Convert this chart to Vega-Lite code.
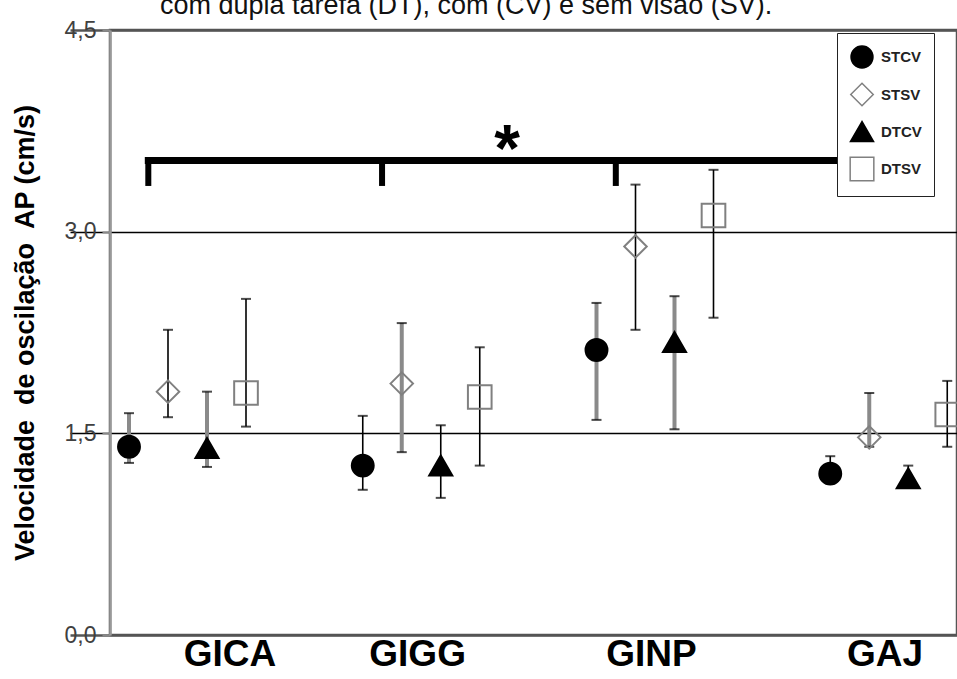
{
  "$schema": "https://vega.github.io/schema/vega-lite/v6.json",
  "width": 847,
  "height": 605,
  "autosize": {"type": "none"},
  "padding": {"left": 110, "top": 30, "right": 0, "bottom": 44},
  "background": "white",
  "config": {"view": {"stroke": "#555", "strokeWidth": 2.5}, "font": "Liberation Sans"},
  "title": {"text": "com dupla tarefa (DT), com (CV) e sem visão (SV).", "anchor": "start", "frame": "group", "dx": 50, "dy": 22, "offset": 0, "baseline": "alphabetic", "fontSize": 27, "fontWeight": "normal", "font": "Liberation Sans", "color": "#111"},
  "datasets": {
    "medias": [
      {"grupo": "GICA", "cond": "STCV", "media": 1.40, "lo": 1.28, "hi": 1.65},
      {"grupo": "GICA", "cond": "STSV", "media": 1.81, "lo": 1.62, "hi": 2.27},
      {"grupo": "GICA", "cond": "DTCV", "media": 1.39, "lo": 1.25, "hi": 1.81},
      {"grupo": "GICA", "cond": "DTSV", "media": 1.80, "lo": 1.55, "hi": 2.50},
      {"grupo": "GIGG", "cond": "STCV", "media": 1.26, "lo": 1.08, "hi": 1.63},
      {"grupo": "GIGG", "cond": "STSV", "media": 1.87, "lo": 1.36, "hi": 2.32},
      {"grupo": "GIGG", "cond": "DTCV", "media": 1.26, "lo": 1.02, "hi": 1.56},
      {"grupo": "GIGG", "cond": "DTSV", "media": 1.77, "lo": 1.26, "hi": 2.14},
      {"grupo": "GINP", "cond": "STCV", "media": 2.12, "lo": 1.60, "hi": 2.47},
      {"grupo": "GINP", "cond": "STSV", "media": 2.89, "lo": 2.27, "hi": 3.35},
      {"grupo": "GINP", "cond": "DTCV", "media": 2.18, "lo": 1.53, "hi": 2.52},
      {"grupo": "GINP", "cond": "DTSV", "media": 3.12, "lo": 2.36, "hi": 3.46},
      {"grupo": "GAJ", "cond": "STCV", "media": 1.20, "lo": 1.13, "hi": 1.33},
      {"grupo": "GAJ", "cond": "STSV", "media": 1.47, "lo": 1.40, "hi": 1.80},
      {"grupo": "GAJ", "cond": "DTCV", "media": 1.165, "lo": 1.11, "hi": 1.26},
      {"grupo": "GAJ", "cond": "DTSV", "media": 1.64, "lo": 1.40, "hi": 1.89}
    ],
    "grupos": [{"grupo": "GICA"}, {"grupo": "GIGG"}, {"grupo": "GINP"}, {"grupo": "GAJ"}]
  },
  "layer": [
    {
      "data": {"name": "grupos"},
      "mark": {"type": "line", "color": "black", "strokeWidth": 7, "strokeCap": "square"},
      "encoding": {
        "x": {"field": "grupo", "type": "nominal", "bandPosition": 0.335, "sort": ["GICA", "GIGG", "GINP", "GAJ"], "scale": {"domain": ["GICA", "GIGG", "GINP", "GAJ"], "range": [-40, 895], "paddingInner": 0, "paddingOuter": 0}, "axis": {"title": null, "domain": false, "ticks": false, "grid": false, "labelFontSize": 37, "labelFontWeight": "bold", "labelColor": "black", "labelPadding": 1, "labelAngle": 0, "labelOffset": {"condition": {"test": "datum.value === 'GICA'", "value": 43}, "value": -3}}},
        "y": {"datum": 3.53, "type": "quantitative", "scale": {"domain": [0, 4.5], "nice": false, "zero": false}, "axis": {"title": "Velocidade\u00a0 de oscilação\u00a0 AP (cm/s)", "titleFontSize": 27, "titleFontWeight": "bold", "titleColor": "black", "titlePadding": 25, "values": [0, 1.5, 3, 4.5], "labelExpr": "replace(format(datum.value, '.1f'), '.', ',')", "labelFontSize": 23, "labelColor": "#404040", "labelPadding": 6, "tickSize": 8, "tickColor": "#888", "tickWidth": 2, "domainColor": "#999", "domainWidth": 2.5, "grid": true, "gridColor": {"condition": {"test": "datum.value === 1.5 || datum.value === 3", "value": "black"}, "value": "#555"}, "gridWidth": {"condition": {"test": "datum.value === 1.5 || datum.value === 3", "value": 1.5}, "value": 2.5}, "gridOpacity": 1}}
      }
    },
    {
      "data": {"name": "grupos"},
      "mark": {"type": "rule", "color": "black", "strokeWidth": 6},
      "encoding": {
        "x": {"field": "grupo", "type": "nominal", "bandPosition": 0.335},
        "y": {"datum": 3.53, "type": "quantitative"},
        "y2": {"datum": 3.34}
      }
    },
    {
      "data": {"name": "medias"},
      "transform": [{"filter": "(indexof(['GICA','GINP'], datum.grupo) >= 0 && indexof(['STCV','DTCV'], datum.cond) >= 0) || (indexof(['GIGG','GAJ'], datum.grupo) >= 0 && datum.cond === 'STSV')"}],
      "mark": {"type": "rule", "color": "#8a8a8a", "strokeWidth": 4},
      "encoding": {
        "x": {"field": "grupo", "type": "nominal"},
        "xOffset": {"field": "cond", "type": "nominal", "scale": {"type": "point", "domain": ["STCV", "STSV", "DTCV", "DTSV"], "range": [59, 176], "padding": 0}},
        "y": {"field": "lo", "type": "quantitative"},
        "y2": {"field": "hi"}
      }
    },
    {
      "data": {"name": "medias"},
      "transform": [{"filter": "!((indexof(['GICA','GINP'], datum.grupo) >= 0 && indexof(['STCV','DTCV'], datum.cond) >= 0) || (indexof(['GIGG','GAJ'], datum.grupo) >= 0 && datum.cond === 'STSV'))"}],
      "mark": {"type": "rule", "color": "black", "strokeWidth": 1.6},
      "encoding": {
        "x": {"field": "grupo", "type": "nominal"},
        "xOffset": {"field": "cond", "type": "nominal"},
        "y": {"field": "lo", "type": "quantitative"},
        "y2": {"field": "hi"}
      }
    },
    {
      "data": {"name": "medias"},
      "mark": {"type": "tick", "color": "black", "thickness": 2, "size": 10},
      "encoding": {
        "x": {"field": "grupo", "type": "nominal"},
        "xOffset": {"field": "cond", "type": "nominal"},
        "y": {"field": "hi", "type": "quantitative"}
      }
    },
    {
      "data": {"name": "medias"},
      "mark": {"type": "tick", "color": "black", "thickness": 2, "size": 10},
      "encoding": {
        "x": {"field": "grupo", "type": "nominal"},
        "xOffset": {"field": "cond", "type": "nominal"},
        "y": {"field": "lo", "type": "quantitative"}
      }
    },
    {
      "data": {"name": "medias"},
      "mark": {"type": "point", "filled": false, "strokeWidth": 2, "opacity": 1},
      "encoding": {
        "x": {"field": "grupo", "type": "nominal"},
        "xOffset": {"field": "cond", "type": "nominal"},
        "y": {"field": "media", "type": "quantitative"},
        "shape": {"field": "cond", "type": "nominal", "scale": {"domain": ["STCV", "STSV", "DTCV", "DTSV"], "range": ["circle", "diamond", "triangle-up", "square"]},
          "legend": {"title": null, "orient": "none", "legendX": 727, "legendY": 3, "padding": 12, "rowPadding": 9, "fillColor": "white", "strokeColor": "#222", "labelFontSize": 15, "labelFontWeight": "bold", "labelColor": "#222", "labelOffset": 6, "labelExpr": "datum.label + '\u00a0\u00a0\u00a0\u00a0\u00a0\u00a0\u00a0\u00a0\u00a0\u00a0\u00a0\u00a0'",
            "encode": {"symbols": {"update": {"fill": {"signal": "datum.value === 'STCV' || datum.value === 'DTCV' ? 'black' : '#9a9a9a'"}, "stroke": {"value": "transparent"}, "size": {"signal": "datum.value === 'DTCV' ? 110 : 55"}}}}}},
        "fill": {"field": "cond", "type": "nominal", "scale": {"domain": ["STCV", "STSV", "DTCV", "DTSV"], "range": ["black", "transparent", "black", "transparent"]},
          "legend": {"title": null, "orient": "none", "legendX": 727, "legendY": 3, "padding": 12, "rowPadding": 9, "fillColor": "white", "strokeColor": "#222", "labelFontSize": 15, "labelFontWeight": "bold", "labelColor": "#222", "labelOffset": 6, "labelExpr": "datum.label + '\u00a0\u00a0\u00a0\u00a0\u00a0\u00a0\u00a0\u00a0\u00a0\u00a0\u00a0\u00a0'",
            "encode": {"symbols": {"update": {"fill": {"signal": "datum.value === 'STCV' || datum.value === 'DTCV' ? 'black' : '#9a9a9a'"}, "stroke": {"value": "transparent"}, "size": {"signal": "datum.value === 'DTCV' ? 110 : 55"}}}}}},
        "stroke": {"field": "cond", "type": "nominal", "scale": {"domain": ["STCV", "STSV", "DTCV", "DTSV"], "range": ["black", "#808080", "black", "#808080"]},
          "legend": {"title": null, "orient": "none", "legendX": 727, "legendY": 3, "padding": 12, "rowPadding": 9, "fillColor": "white", "strokeColor": "#222", "labelFontSize": 15, "labelFontWeight": "bold", "labelColor": "#222", "labelOffset": 6, "labelExpr": "datum.label + '\u00a0\u00a0\u00a0\u00a0\u00a0\u00a0\u00a0\u00a0\u00a0\u00a0\u00a0\u00a0'",
            "encode": {"symbols": {"update": {"fill": {"signal": "datum.value === 'STCV' || datum.value === 'DTCV' ? 'black' : '#9a9a9a'"}, "stroke": {"value": "transparent"}, "size": {"signal": "datum.value === 'DTCV' ? 110 : 55"}}}}}},
        "size": {"field": "cond", "type": "ordinal", "scale": {"domain": ["STCV", "STSV", "DTCV", "DTSV"], "range": [480, 560, 500, 440]},
          "legend": {"title": null, "orient": "none", "legendX": 727, "legendY": 3, "padding": 12, "rowPadding": 9, "fillColor": "white", "strokeColor": "#222", "labelFontSize": 15, "labelFontWeight": "bold", "labelColor": "#222", "labelOffset": 6, "labelExpr": "datum.label + '\u00a0\u00a0\u00a0\u00a0\u00a0\u00a0\u00a0\u00a0\u00a0\u00a0\u00a0\u00a0'",
            "encode": {"symbols": {"update": {"fill": {"signal": "datum.value === 'STCV' || datum.value === 'DTCV' ? 'black' : '#9a9a9a'"}, "stroke": {"value": "transparent"}, "size": {"signal": "datum.value === 'DTCV' ? 110 : 55"}}}}}}
      }
    },
    {
      "data": {"values": [{"t": "*"}]},
      "mark": {"type": "text", "fontSize": 66, "fontWeight": "bold", "baseline": "alphabetic", "align": "center", "color": "black"},
      "encoding": {
        "x": {"datum": "GIGG", "type": "nominal", "bandPosition": 0.87},
        "y": {"datum": 3.45, "type": "quantitative"},
        "text": {"field": "t"}
      }
    }
  ]
}
